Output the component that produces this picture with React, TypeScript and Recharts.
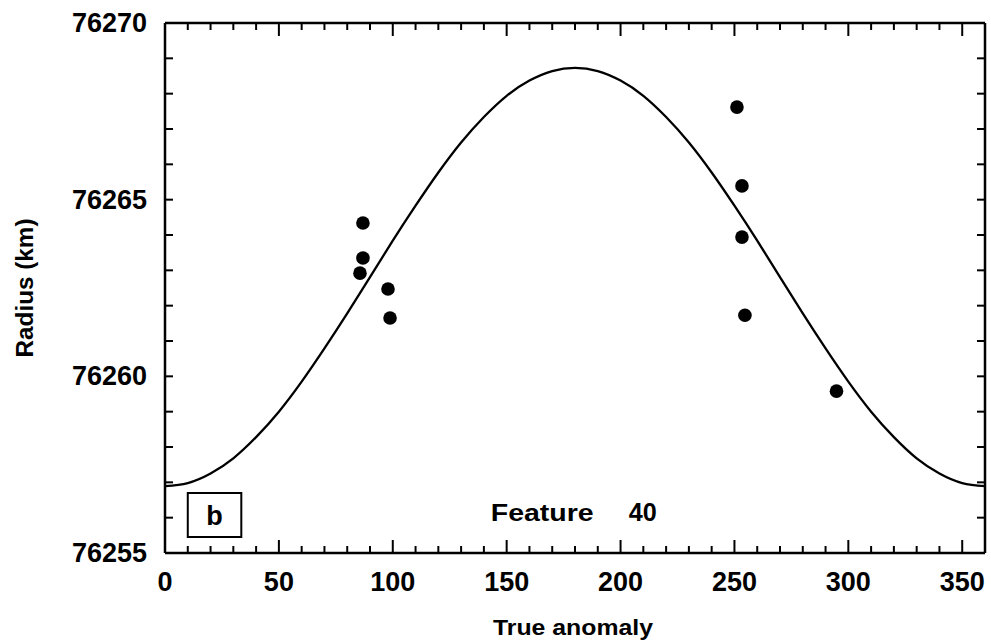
import React from 'react';
import {
  ComposedChart,
  Line,
  Scatter,
  XAxis,
  YAxis,
  ReferenceArea,
  ReferenceDot,
} from 'recharts';

// model curve, every 10 degrees
const curveAnomaly = [
  0, 10, 20, 30, 40, 50, 60, 70, 80, 90, 100, 110, 120, 130, 140, 150, 160, 170, 180,
  190, 200, 210, 220, 230, 240, 250, 260, 270, 280, 290, 300, 310, 320, 330, 340, 350, 360,
];
const curveRadius = [
  76256.89, 76256.98, 76257.25, 76257.68, 76258.28, 76259.0, 76259.85, 76260.79, 76261.78,
  76262.81, 76263.84, 76264.83, 76265.77, 76266.62, 76267.34, 76267.94, 76268.37, 76268.64,
  76268.73, 76268.64, 76268.37, 76267.94, 76267.34, 76266.62, 76265.77, 76264.83, 76263.84,
  76262.81, 76261.78, 76260.79, 76259.85, 76259.0, 76258.28, 76257.68, 76257.25, 76256.98,
  76256.89,
];

// observed points
const obsAnomaly = [86.9, 86.9, 85.6, 97.9, 98.8, 251.1, 253.3, 253.3, 254.6, 294.8];
const obsRadius = [
  76264.34, 76263.35, 76262.92, 76262.47, 76261.65, 76267.62, 76265.39, 76263.94, 76261.73,
  76259.58,
];

const xTicks = [
  0, 10, 20, 30, 40, 50, 60, 70, 80, 90, 100, 110, 120, 130, 140, 150, 160, 170, 180, 190,
  200, 210, 220, 230, 240, 250, 260, 270, 280, 290, 300, 310, 320, 330, 340, 350, 360,
];
const yTicks = [
  76255, 76256, 76257, 76258, 76259, 76260, 76261, 76262, 76263, 76264, 76265, 76266, 76267,
  76268, 76269, 76270,
];

const curveData = curveAnomaly.map((x, i) => ({ x, y: curveRadius[i] }));
const obsData = obsAnomaly.map((x, i) => ({ x, y: obsRadius[i] }));

const FONT = '"Liberation Sans", Arial, Helvetica, sans-serif';
const INK = '#000';

const BottomTick = (props: any) => {
  const { x, y, payload } = props;
  const v = payload.value;
  const major = v % 50 === 0;
  return (
    <g>
      {v > 0 && v < 360 && (
        <line x1={x} y1={y} x2={x} y2={y - (major ? 13 : 7)} stroke={INK} strokeWidth={2} />
      )}
      {major && (
        <text x={x} y={y + 38} textAnchor="middle" fontFamily={FONT} fontWeight="bold" fontSize={27} fill={INK}>
          {v}
        </text>
      )}
    </g>
  );
};

const TopTick = (props: any) => {
  const { x, y, payload } = props;
  const v = payload.value;
  if (v <= 0 || v >= 360) return <g />;
  const major = v % 50 === 0;
  return <line x1={x} y1={y} x2={x} y2={y + (major ? 13 : 7)} stroke={INK} strokeWidth={2} />;
};

const LeftTick = (props: any) => {
  const { x, y, payload } = props;
  const v = payload.value;
  return (
    <g>
      {v > 76255 && v < 76270 && <line x1={x} y1={y} x2={x + 8} y2={y} stroke={INK} strokeWidth={2} />}
      {v % 5 === 0 && (
        <text x={x - 18} y={y + 9} textAnchor="end" fontFamily={FONT} fontWeight="bold" fontSize={27} fill={INK}>
          {v}
        </text>
      )}
    </g>
  );
};

const RightTick = (props: any) => {
  const { x, y, payload } = props;
  const v = payload.value;
  if (v <= 76255 || v >= 76270) return <g />;
  return <line x1={x} y1={y} x2={x - 8} y2={y} stroke={INK} strokeWidth={2} />;
};

const axisLine = { stroke: INK, strokeWidth: 2.5 };

export default function App() {
  return (
    <div style={{ position: 'absolute', left: 0, top: 0, background: '#fff' }}>
      <ComposedChart width={991} height={644} margin={{ top: 22, right: 5, bottom: 0, left: 0 }}>
        <XAxis
          dataKey="x"
          type="number"
          domain={[0, 360]}
          ticks={xTicks}
          interval={0}
          height={91}
          tickSize={0}
          tickMargin={0}
          tickLine={false}
          axisLine={axisLine}
          tick={BottomTick}
          allowDataOverflow
          label={({ viewBox }: any) => (
            <text
              x={viewBox.x + viewBox.width / 2 - 2}
              y={viewBox.y + 82}
              textAnchor="middle"
              fontFamily={FONT}
              fontWeight="bold"
              fontSize={22}
              textLength={160}
              lengthAdjust="spacingAndGlyphs"
              fill={INK}
            >
              True anomaly
            </text>
          )}
        />
        <XAxis
          xAxisId="top"
          dataKey="x"
          orientation="top"
          type="number"
          domain={[0, 360]}
          ticks={xTicks}
          interval={0}
          height={1}
          tickSize={0}
          tickMargin={0}
          tickLine={false}
          axisLine={axisLine}
          tick={TopTick}
          allowDataOverflow
        />
        <YAxis
          dataKey="y"
          type="number"
          domain={[76255, 76270]}
          ticks={yTicks}
          interval={0}
          width={165}
          tickSize={0}
          tickMargin={0}
          tickLine={false}
          axisLine={axisLine}
          tick={LeftTick}
          allowDataOverflow
          label={({ viewBox }: any) => {
            const cx = viewBox.x + 33;
            const cy = viewBox.y + viewBox.height / 2;
            return (
              <text
                x={cx}
                y={cy}
                transform={`rotate(-90 ${cx} ${cy})`}
                textAnchor="middle"
                fontFamily={FONT}
                fontWeight="bold"
                fontSize={23}
                textLength={139}
                lengthAdjust="spacingAndGlyphs"
                fill={INK}
              >
                Radius (km)
              </text>
            );
          }}
        />
        <YAxis
          yAxisId="right"
          dataKey="y"
          orientation="right"
          type="number"
          domain={[76255, 76270]}
          ticks={yTicks}
          interval={0}
          width={1}
          tickSize={0}
          tickMargin={0}
          tickLine={false}
          axisLine={axisLine}
          tick={RightTick}
          allowDataOverflow
        />
        <ReferenceArea
          x1={10}
          x2={33.5}
          y1={76255.45}
          y2={76256.7}
          fill="none"
          fillOpacity={0}
          stroke={INK}
          strokeWidth={2}
          ifOverflow="visible"
          label={({ viewBox }: any) => (
            <text
              x={viewBox.x + viewBox.width / 2}
              y={viewBox.y + viewBox.height / 2 + 10}
              textAnchor="middle"
              fontFamily={FONT}
              fontWeight="bold"
              fontSize={27}
              fill={INK}
            >
              b
            </text>
          )}
        />
        <ReferenceDot
          x={179}
          y={76256.17}
          r={0}
          ifOverflow="visible"
          shape={(p: any) => (
            <g>
              <text
                x={p.cx - 82}
                y={p.cy + 9}
                fontFamily={FONT}
                fontWeight="bold"
                fontSize={24}
                textLength={103}
                lengthAdjust="spacingAndGlyphs"
                fill={INK}
              >
                Feature
              </text>
              <text
                x={p.cx + 56}
                y={p.cy + 9}
                fontFamily={FONT}
                fontWeight="bold"
                fontSize={25}
                textLength={28}
                lengthAdjust="spacingAndGlyphs"
                fill={INK}
              >
                40
              </text>
            </g>
          )}
        />
        <Line
          data={curveData}
          dataKey="y"
          type="natural"
          stroke={INK}
          strokeWidth={2.3}
          dot={false}
          activeDot={false}
          isAnimationActive={false}
        />
        <Scatter
          data={obsData}
          dataKey="y"
          fill={INK}
          shape={(p: any) => <circle cx={p.cx} cy={p.cy} r={6.8} fill={INK} />}
          isAnimationActive={false}
        />
      </ComposedChart>
    </div>
  );
}
